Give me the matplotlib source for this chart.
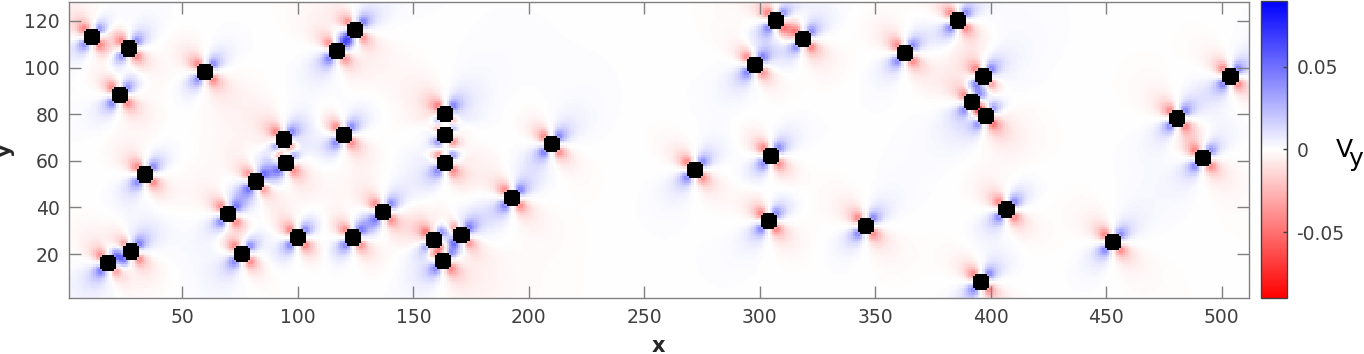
import numpy as np
import matplotlib
matplotlib.use('Agg')
import matplotlib.pyplot as plt
from matplotlib.colors import LinearSegmentedColormap

# particle centres
px = [10.9, 26.9, 60.1, 23, 94, 120, 117, 125.2, 33.8, 94.9, 81.9, 69.9, 100.1, 124.1, 75.9,
      28.1, 18.1, 136.9, 159, 171.1, 162.9, 193.2, 164.2, 164.2, 164.2, 210, 272, 305, 304.1,
      346.1, 407.2, 453.1, 395.9, 492, 481.2, 504, 398.1, 392, 397.2, 385.9, 363, 298, 307, 319]
py = [113.1, 108.1, 98, 87.8, 68.8, 71, 106.9, 116.3, 53.8, 59.1, 50.7, 37.1, 26.9, 26.9, 19.8,
      20.9, 15.9, 37.8, 25.7, 28, 16.7, 43.8, 59.1, 71, 80.2, 67.1, 55.9, 62.4, 33.9,
      31.8, 38.7, 24.9, 7.6, 61.1, 77.9, 96, 78.8, 84.8, 96, 120.1, 105.9, 101, 120, 111.9]

xticks = [50, 100, 150, 200, 250, 300, 350, 400, 450, 500]
yticks = [20, 40, 60, 80, 100, 120]
cticks = [-0.05, 0, 0.05]
clabels = ['-0.05', '0', '0.05']

radius = 3.8
vmax = 0.0895
grey = '#404040'

# the background is not read cell by cell: it is an approximate quadrupole
# flow summed over the particle centres above
gx, gy = np.meshgrid(np.arange(1, 513), np.arange(1, 129))
vy = np.zeros(gx.shape)
inside = np.zeros(gx.shape, dtype=bool)
for cx, cy in zip(px, py):
    dx = gx - round(cx)
    dy = gy - round(cy)
    r = np.maximum(np.hypot(dx, dy), 0.1)
    inside |= r <= radius
    edge = np.clip(1 - (radius / r) ** 4, 0, None)
    s = 2 * dx * dy / r ** 2
    vy += np.sign(s) * np.abs(s) ** 1.5 * 2.5 / r ** 2.3 * edge

cmap = LinearSegmentedColormap.from_list('rwb', ['#ff0000', '#ffffff', '#0000ff'], N=256)
cmap.set_bad('black')

fig = plt.figure(figsize=(13.64, 3.54), dpi=100)
ax = fig.add_axes([69.3 / 1364, 1 - 298.3 / 354, 1180 / 1364, 296 / 354])
im = ax.imshow(np.ma.array(vy, mask=inside), origin='lower', cmap=cmap, vmin=-vmax, vmax=vmax,
               extent=(0.5, 512.5, 0.5, 128.5), aspect='auto', interpolation='nearest')
ax.set_xlim(1, 512)
ax.set_ylim(1, 128)
ax.set_xticks(xticks)
ax.set_yticks(yticks)
ax.tick_params(direction='in', length=8.6, width=1, color='#808080', labelcolor=grey,
               labelsize=13.5, top=True, right=True, pad=7)
for s in ax.spines.values():
    s.set_color('#808080')
    s.set_linewidth(1)

cax = fig.add_axes([1261 / 1364, 1 - 297.6 / 354, 25.7 / 1364, 296.3 / 354])
cb = fig.colorbar(im, cax=cax)
cb.set_ticks(cticks, labels=clabels)
cb.ax.tick_params(direction='in', length=3, width=1, color=grey, labelcolor=grey, labelsize=13.5, pad=7)
cb.outline.set_edgecolor(grey)
cb.outline.set_linewidth(1)

fig.text(658 / 1364, 1 - 346 / 354, 'x', fontsize=15, fontweight='bold', color='#262626', ha='center', va='center')
fig.text(5 / 1364, 1 - 150 / 354, 'y', fontsize=15, fontweight='bold', color='#262626', ha='center', va='center',
         rotation=90)
fig.text(1336 / 1364, 1 - 157 / 354, 'V', fontsize=18, color='black', ha='left', va='baseline')
fig.text(1348 / 1364, 1 - 166 / 354, 'y', fontsize=18, color='black', ha='left', va='baseline')

fig.savefig('out.png', dpi=100)
